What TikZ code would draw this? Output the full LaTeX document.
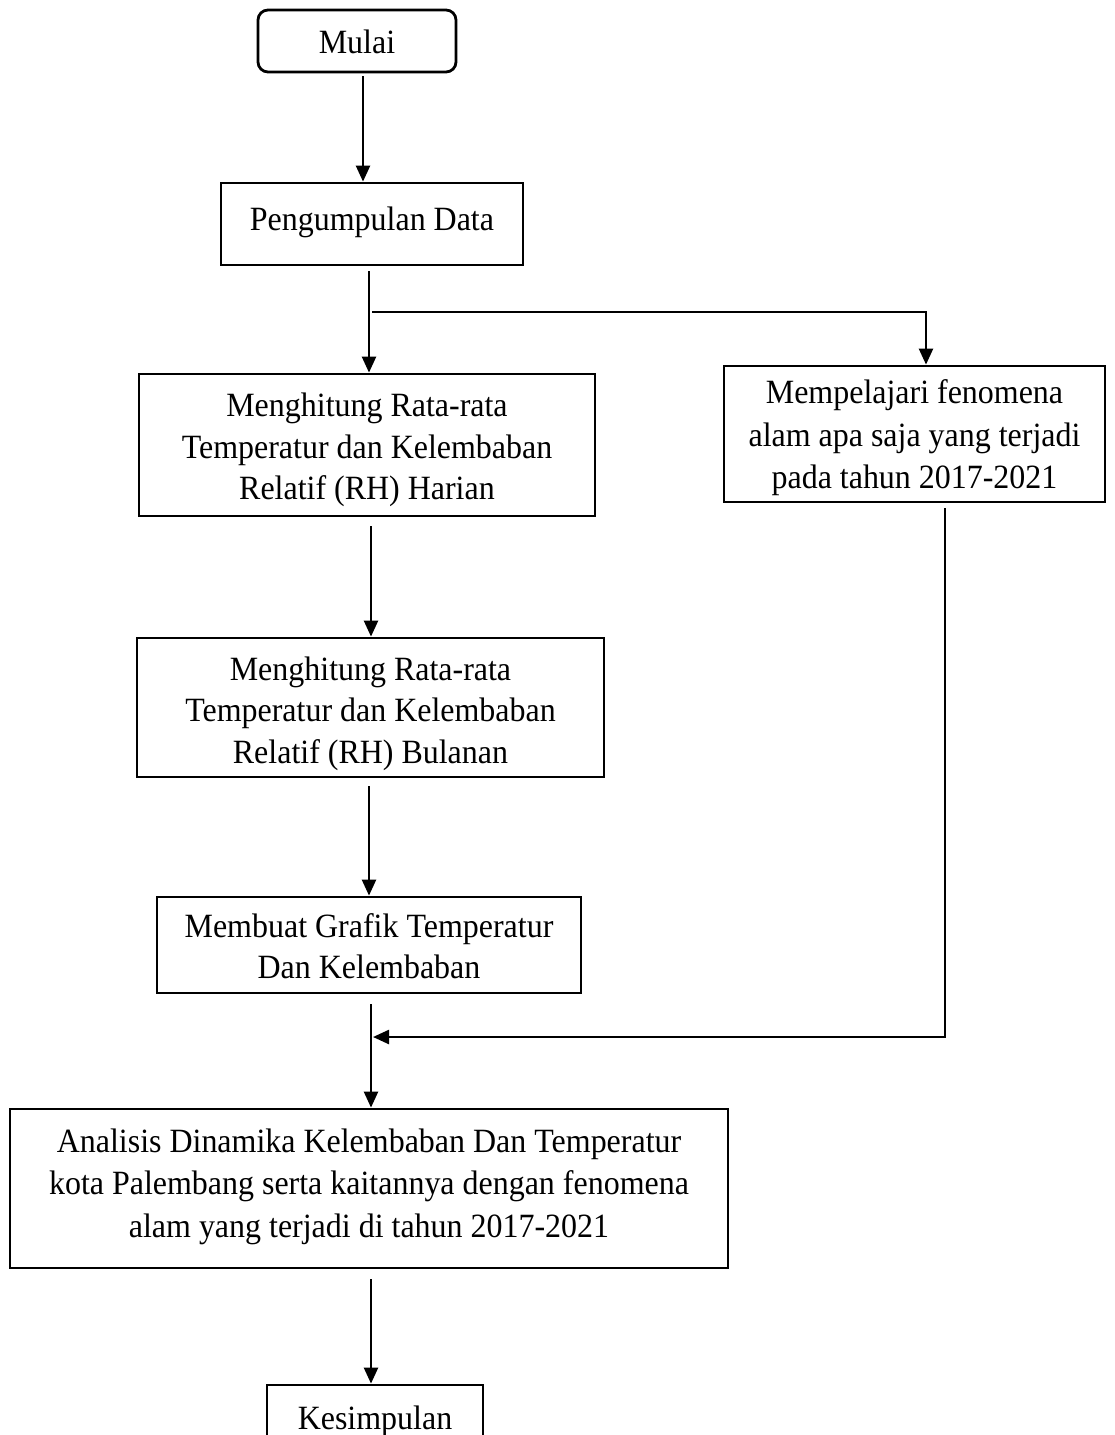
\documentclass[tikz,border=0pt]{standalone}
\usepackage{fontspec}
\setmainfont[FakeStretch=0.94]{Liberation Serif}
\usetikzlibrary{arrows.meta}
\begin{document}
\begin{tikzpicture}[x=1pt,y=-1pt,
  box/.style={draw,line width=2.8pt,inner sep=0pt},
  txt/.style={align=center,inner sep=0pt,font=\fontsize{34}{41.5}\selectfont},
  arr/.style={line width=2.4pt,-{Triangle[width=14pt,length=16pt]}}]
\useasboundingbox (0,0) rectangle (1114,1435);
\fill[white] (0,0) rectangle (1114,1435);
\node[box,rounded corners=10pt,minimum width=198pt,minimum height=62pt] (mulai) at (357,41) {};
\node[txt] (mulait) at ([yshift=-1pt]mulai.center) {Mulai};
\node[box,minimum width=302pt,minimum height=82pt] (peng) at (372,224) {};
\node[txt] (pengt) at ([yshift=2pt]peng.center) {Pengumpulan Data};
\node[box,minimum width=456pt,minimum height=142pt] (m1) at (367,445) {};
\node[txt] (m1t) at ([yshift=-5pt]m1.center) {Menghitung Rata-rata\\Temperatur dan Kelembaban\\Relatif (RH) Harian};
\node[box,minimum width=381pt,minimum height=136pt] (fen) at (914.5,434) {};
\node[txt,font=\fontsize{34}{42.5}\selectfont] (fent) at ([yshift=-4pt]fen.center) {Mempelajari fenomena\\alam apa saja yang terjadi\\pada tahun 2017-2021};
\node[box,minimum width=467pt,minimum height=139pt] (m2) at (370.5,707.5) {};
\node[txt] (m2t) at ([yshift=-6pt]m2.center) {Menghitung Rata-rata\\Temperatur dan Kelembaban\\Relatif (RH) Bulanan};
\node[box,minimum width=424pt,minimum height=96pt] (graf) at (369,945) {};
\node[txt] (graft) at ([yshift=-1pt]graf.center) {Membuat Grafik Temperatur\\Dan Kelembaban};
\node[box,minimum width=718pt,minimum height=159pt] (anal) at (369,1188.5) {};
\node[txt,font=\fontsize{34}{42.5}\selectfont] (analt) at ([yshift=2pt]anal.center) {Analisis Dinamika Kelembaban Dan Temperatur\\kota Palembang serta kaitannya dengan fenomena\\alam yang terjadi di tahun 2017-2021};
\node[box,minimum width=216pt,minimum height=70pt] (kes) at (375,1420) {};
\node[txt] (kest) at ([yshift=-1pt]kes.center) {Kesimpulan};
\coordinate (br) at (372,312);
\coordinate (j) at (373,1037);
\draw[arr,shorten <=3pt] (mulai.south -| 363,0) -- (peng.north -| 363,0);
\draw[arr,shorten <=5pt] (peng.south -| 369,0) -- (m1.north -| 369,0);
\draw[arr] (br) -| (fen.north -| 926,0);
\draw[arr,shorten <=9pt] (m1.south -| 371,0) -- (m2.north -| 371,0);
\draw[arr,shorten <=8pt] (m2.south -| 369,0) -- (graf.north -| 369,0);
\draw[arr,shorten <=10pt] (graf.south -| 371,0) -- (anal.north -| 371,0);
\draw[arr,shorten <=5pt] (fen.south -| 945,0) |- (j);
\draw[arr,shorten <=10pt] (anal.south -| 371,0) -- (kes.north -| 371,0);
\end{tikzpicture}
\end{document}
